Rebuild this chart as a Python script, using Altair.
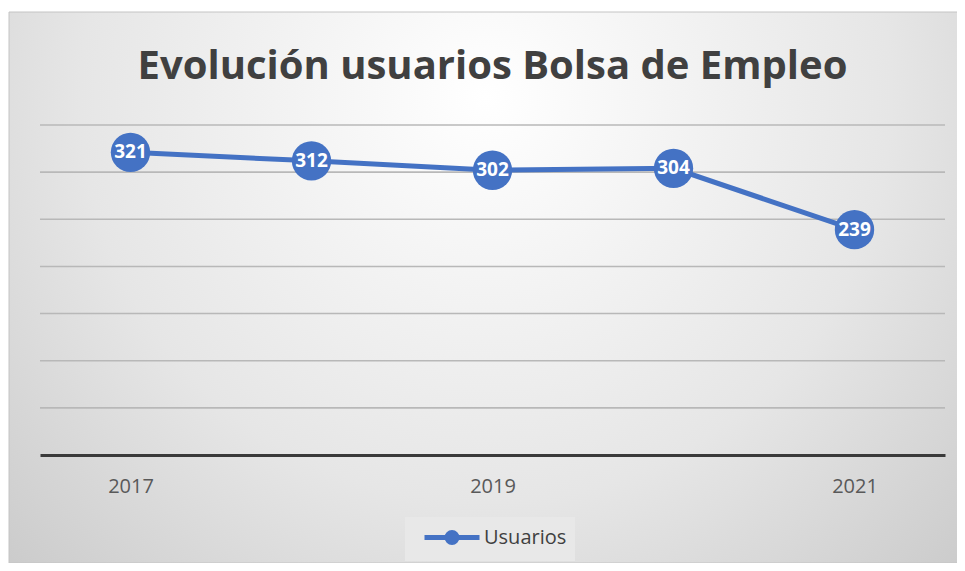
import altair as alt
import pandas as pd

years = ["2017", "2018", "2019", "2020", "2021"]
usuarios = [321, 312, 302, 304, 239]
series = "Usuarios"
title_text = "Evolución usuarios Bolsa de Empleo"
grid_values = [50, 100, 150, 200, 250, 300, 350]
shown_years = ["2017", "2019", "2021"]

df = pd.DataFrame({"Año": years, "Usuarios": usuarios, "Serie": [series] * len(years)})
grid_df = pd.DataFrame({"Usuarios": grid_values})

BLUE = "#4472C4"
W, H = 905, 330
PAD = {"left": 32, "top": 117, "right": 12, "bottom": 108}

bg = alt.Chart(pd.DataFrame({"a": [0]})).mark_rect(
    fill=alt.RadialGradient(
        gradient="radial",
        x1=0.5, y1=0.3, r1=0.0,
        x2=0.5, y2=0.3, r2=0.85,
        stops=[
            alt.GradientStop(offset=0, color="#ffffff"),
            alt.GradientStop(offset=0.5, color="#e6e6e6"),
            alt.GradientStop(offset=1, color="#bdbdbd"),
        ],
    ),
    stroke="#c4c4c4",
    strokeWidth=1,
).encode(
    x=alt.value(-31), x2=alt.value(923), y=alt.value(-113), y2=alt.value(438)
)

yscale = alt.Scale(domain=[0, 350], nice=False)

grid = alt.Chart(grid_df).mark_rule(color="#b8b8b8", strokeWidth=1.6).encode(
    y=alt.Y("Usuarios:Q", scale=yscale, axis=None)
)

xenc = alt.X(
    "Año:O",
    sort=years,
    scale=alt.Scale(type="point", padding=0.5),
    axis=alt.Axis(
        title=None,
        labelAngle=0,
        labelExpr="indexof(" + str(shown_years) + ", datum.label) >= 0 ? datum.label : ''",
        labelFont="Open Sans",
        labelFontSize=20,
        labelColor="#595959",
        labelPadding=21,
        ticks=False,
        domain=True,
        domainColor="#3a3a3a",
        domainWidth=3,
        grid=False,
        zindex=1,
    ),
)
yenc = alt.Y("Usuarios:Q", scale=yscale, axis=None)

colorenc = alt.Color(
    "Serie:N",
    scale=alt.Scale(domain=[series], range=[BLUE]),
    legend=alt.Legend(
        title=None,
        orient="none",
        legendX=365,
        legendY=392,
        fillColor="#e8e8e8",
        padding=8,
        symbolType="M-0.1,0H5.4M3.15,0A0.5,0.5 0 1 1 2.15,0A0.5,0.5 0 1 1 3.15,0Z",
        symbolSize=400,
        symbolStrokeWidth=5,
        symbolStrokeColor=BLUE,
        symbolFillColor=BLUE,
        labelFont="Open Sans",
        labelFontSize=20,
        labelColor="#404040",
        labelOffset=46,
    ),
)

base = alt.Chart(df).encode(x=xenc, y=yenc)

line = base.mark_line(strokeWidth=5, color=BLUE).encode(color=colorenc)
points = base.mark_point(filled=True, size=1550, opacity=1, color=BLUE).encode(color=colorenc)
labels = base.mark_text(
    color="white", font="Open Sans", fontWeight="bold", fontSize=19, baseline="middle", align="center"
).encode(text="Usuarios:Q")

chart = alt.layer(bg, grid, line, points, labels).properties(
    width=W,
    height=H,
    padding=PAD,
    autosize=alt.AutoSizeParams(type="none"),
    background="white",
    title=alt.TitleParams(
        title_text,
        font="Open Sans",
        fontSize=40,
        fontWeight="bold",
        color="#404040",
        anchor="middle",
        frame="group",
        offset=-75,
    ),
).configure_view(stroke=None)

chart.save("out.html", embed_options={"renderer": "svg", "actions": False})
